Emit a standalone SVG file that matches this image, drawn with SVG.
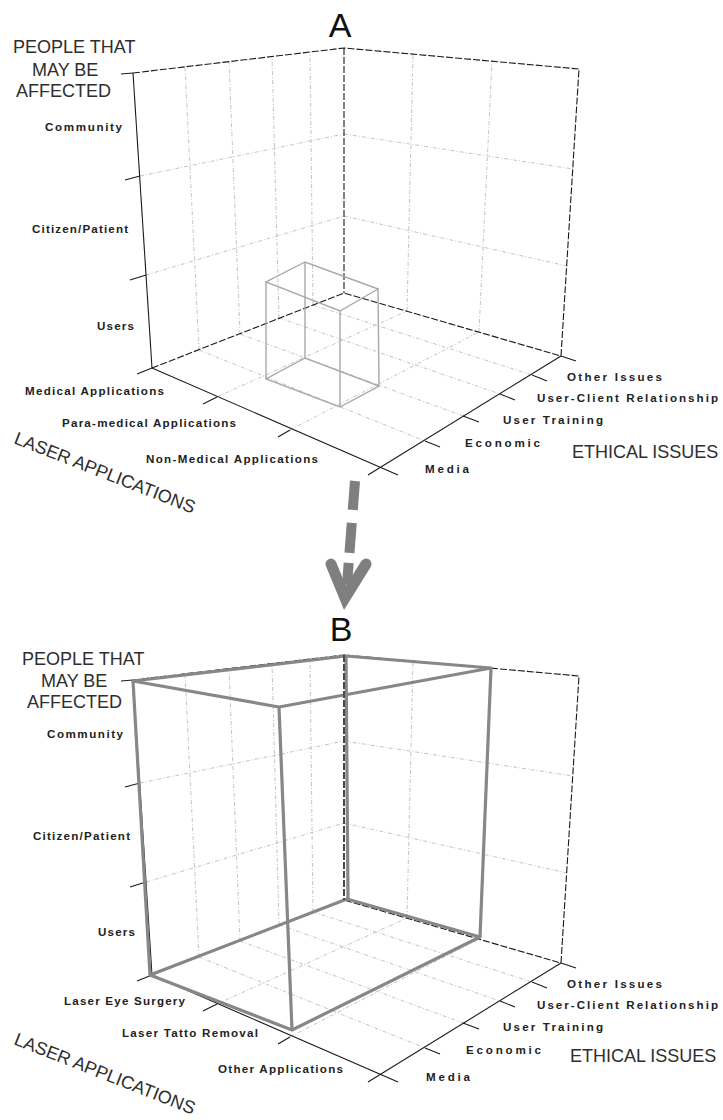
<svg xmlns="http://www.w3.org/2000/svg" xmlns:xlink="http://www.w3.org/1999/xlink" width="723" height="1120" viewBox="0 0 723 1120">
  <style>
    .grid { stroke: #c4c4c4; stroke-width: 1; stroke-dasharray: 4 2 1 2; fill: none; }
    .back { stroke: #1a1a1a; stroke-width: 1.1; stroke-dasharray: 7 2; fill: none; }
    .axis { stroke: #1a1a1a; stroke-width: 1.1; fill: none; }
    .tick { stroke: #1a1a1a; stroke-width: 1.1; }
    .lbl { font-family: "Liberation Sans", Arial, sans-serif; font-size: 11.6px; font-weight: bold; fill: #222; }
    .ttl { font-family: "Liberation Sans", Arial, sans-serif; font-size: 18px; fill: #2e2e2e; }
    .rot { font-family: "Liberation Sans", Arial, sans-serif; font-size: 18px; fill: #2e2e2e; }
    .big { font-family: "Liberation Sans", Arial, sans-serif; font-size: 34px; fill: #111; text-anchor: middle; }
    .boxA { stroke: #a8a8a8; stroke-width: 1.4; fill: none; }
    .boxB { stroke: #878787; stroke-width: 3.2; fill: none; stroke-linejoin: round; }
  </style>
  <defs>
    <!-- three-axis frame: floor, left wall, right wall, grid and ticks -->
    <g id="frame">
      <g class="grid">
        <!-- floor -->
        <line x1="199" y1="350" x2="425" y2="441"/>
        <line x1="240" y1="334" x2="463" y2="416"/>
        <line x1="279" y1="318" x2="500" y2="394"/>
        <line x1="313" y1="305" x2="532" y2="375"/>
        <line x1="217" y1="397" x2="407" y2="311"/>
        <line x1="290" y1="430" x2="479" y2="332"/>
        <!-- left wall -->
        <line x1="199" y1="350" x2="185" y2="67"/>
        <line x1="240" y1="334" x2="229" y2="62"/>
        <line x1="279" y1="318" x2="272" y2="56"/>
        <line x1="313" y1="305" x2="310" y2="52"/>
        <line x1="146" y1="275" x2="344" y2="216"/>
        <line x1="140" y1="176" x2="344" y2="134"/>
        <!-- right wall -->
        <line x1="407" y1="311" x2="413" y2="54"/>
        <line x1="479" y1="332" x2="492" y2="61"/>
        <line x1="344" y1="216" x2="567" y2="266"/>
        <line x1="344" y1="134" x2="573" y2="169"/>
      </g>
      <!-- back edges -->
      <polyline class="back" points="133,73 344,48 579,69 561,356"/>
      <line class="back" x1="344" y1="48" x2="344" y2="293"/>
      <polyline class="back" points="152,368 344,293 561,356"/>
      <!-- axes -->
      <line class="axis" x1="152" y1="368" x2="133" y2="73"/>
      <line class="axis" x1="152" y1="368" x2="398" y2="475"/>
      <line class="axis" x1="368" y1="475" x2="561" y2="356"/>
      <g class="tick">
        <line x1="137" y1="374" x2="152" y2="368"/>
        <line x1="203" y1="404" x2="217" y2="397"/>
        <line x1="278" y1="437" x2="290" y2="430"/>
        <line x1="425" y1="441" x2="440" y2="447"/>
        <line x1="463" y1="416" x2="479" y2="422"/>
        <line x1="500" y1="394" x2="515" y2="400"/>
        <line x1="532" y1="375" x2="547" y2="381"/>
        <line x1="561" y1="356" x2="576" y2="361"/>
        <line x1="146" y1="275" x2="130" y2="280"/>
        <line x1="140" y1="176" x2="125" y2="180"/>
        <line x1="133" y1="73" x2="121" y2="74"/>
      </g>
    </g>
  </defs>

  <!-- Panel A -->
  <g id="panel-a">
    <use xlink:href="#frame" href="#frame"/>
    <g id="region-a">
      <polygon class="boxA" points="305,262 266,282 340,311 378,289"/>
      <polygon class="boxA" points="305,358 266,379 340,407 379,386"/>
      <line class="boxA" x1="305" y1="262" x2="305" y2="358"/>
      <line class="boxA" x1="266" y1="282" x2="266" y2="379"/>
      <line class="boxA" x1="340" y1="311" x2="340" y2="407"/>
      <line class="boxA" x1="378" y1="289" x2="379" y2="386"/>
    </g>
    <text class="big" x="340" y="37">A</text>
    <g id="axis-people-a">
      <text class="ttl" x="13" y="53">PEOPLE THAT</text>
      <text class="ttl" x="32" y="76">MAY BE</text>
      <text class="ttl" x="16" y="97">AFFECTED</text>
      <text class="lbl" x="45" y="131" textLength="77" lengthAdjust="spacing">Community</text>
      <text class="lbl" x="32" y="233" textLength="96" lengthAdjust="spacing">Citizen/Patient</text>
      <text class="lbl" x="97" y="330" textLength="37" lengthAdjust="spacing">Users</text>
    </g>
    <g id="axis-laser-a">
      <text class="lbl" x="25" y="395" textLength="139" lengthAdjust="spacing">Medical Applications</text>
      <text class="lbl" x="62" y="427" textLength="174" lengthAdjust="spacing">Para-medical Applications</text>
      <text class="lbl" x="146" y="463" textLength="172" lengthAdjust="spacing">Non-Medical Applications</text>
      <text class="rot" transform="translate(13,443) rotate(21.5)">LASER APPLICATIONS</text>
    </g>
    <g id="axis-ethical-a">
      <text class="lbl" x="567" y="381" textLength="95" lengthAdjust="spacing">Other Issues</text>
      <text class="lbl" x="537" y="402" textLength="181" lengthAdjust="spacing">User-Client Relationship</text>
      <text class="lbl" x="503" y="424" textLength="100" lengthAdjust="spacing">User Training</text>
      <text class="lbl" x="465" y="447" textLength="75" lengthAdjust="spacing">Economic</text>
      <text class="lbl" x="425" y="473" textLength="44" lengthAdjust="spacing">Media</text>
      <text class="ttl" x="572" y="458">ETHICAL ISSUES</text>
    </g>
  </g>

  <!-- dashed transition arrow -->
  <g id="arrow" stroke="#7f7f7f" fill="none">
    <line x1="355" y1="481" x2="347" y2="585" stroke-width="10" stroke-dasharray="29 13 30 10 200"/>
    <polyline points="331,564 345,598 366,564" stroke-width="11" stroke-linecap="round" stroke-linejoin="miter"/>
  </g>

  <!-- Panel B -->
  <g id="panel-b">
    <use xlink:href="#frame" href="#frame" transform="translate(0,607)"/>
    <g id="region-b">
      <polygon class="boxB" points="133,681 346,656 491,668 279,707"/>
      <polygon class="boxB" points="150,975 347,899 480,937 292,1030"/>
      <line class="boxB" x1="133" y1="681" x2="150" y2="975"/>
      <line class="boxB" x1="346" y1="656" x2="348" y2="899"/>
      <line class="boxB" x1="491" y1="668" x2="480" y2="937"/>
      <line class="boxB" x1="279" y1="707" x2="292" y2="1030"/>
    </g>
    <line class="back" x1="344" y1="655" x2="344" y2="900"/>
    <text class="big" x="341" y="641">B</text>
    <g id="axis-people-b">
      <text class="ttl" x="22" y="665">PEOPLE THAT</text>
      <text class="ttl" x="41" y="687">MAY BE</text>
      <text class="ttl" x="27" y="708">AFFECTED</text>
      <text class="lbl" x="47" y="738" textLength="76" lengthAdjust="spacing">Community</text>
      <text class="lbl" x="33" y="840" textLength="97" lengthAdjust="spacing">Citizen/Patient</text>
      <text class="lbl" x="98" y="936" textLength="37" lengthAdjust="spacing">Users</text>
    </g>
    <g id="axis-laser-b">
      <text class="lbl" x="64" y="1005" textLength="121" lengthAdjust="spacing">Laser Eye Surgery</text>
      <text class="lbl" x="122" y="1037" textLength="136" lengthAdjust="spacing">Laser Tatto Removal</text>
      <text class="lbl" x="218" y="1073" textLength="125" lengthAdjust="spacing">Other Applications</text>
      <text class="rot" transform="translate(13,1044) rotate(21.5)">LASER APPLICATIONS</text>
    </g>
    <g id="axis-ethical-b">
      <text class="lbl" x="567" y="988" textLength="95" lengthAdjust="spacing">Other Issues</text>
      <text class="lbl" x="537" y="1009" textLength="181" lengthAdjust="spacing">User-Client Relationship</text>
      <text class="lbl" x="503" y="1031" textLength="100" lengthAdjust="spacing">User Training</text>
      <text class="lbl" x="466" y="1054" textLength="75" lengthAdjust="spacing">Economic</text>
      <text class="lbl" x="426" y="1081" textLength="44" lengthAdjust="spacing">Media</text>
      <text class="ttl" x="570" y="1062">ETHICAL ISSUES</text>
    </g>
  </g>
</svg>
